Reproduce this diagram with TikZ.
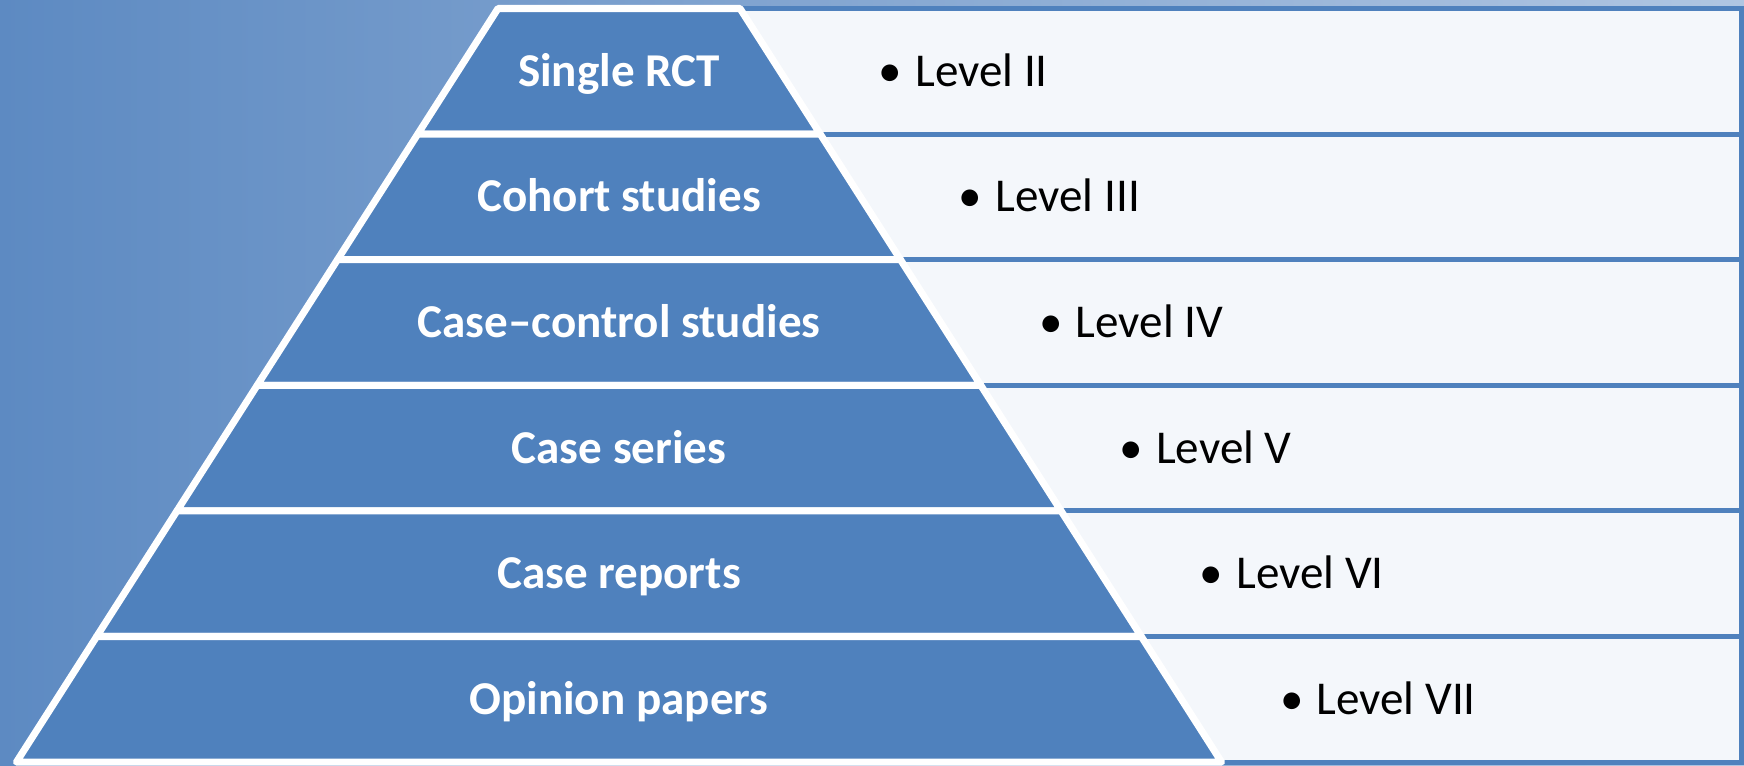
\documentclass[tikz,border=0pt]{standalone}
\usepackage{fontspec}
\setmainfont{Carlito}
\definecolor{pyrblue}{RGB}{79,129,189}
\definecolor{bgleft}{RGB}{93,138,194}
\definecolor{bgright}{RGB}{176,198,226}
\definecolor{boxfill}{RGB}{244,247,251}
\tikzset{
  levelbox/.style={draw=pyrblue, fill=boxfill, line width=1.42pt},
  band/.style={fill=pyrblue, draw=white, line width=2pt, line join=round},
  bandtext/.style={text=white, font=\fontsize{13.4}{16}\selectfont\bfseries, anchor=base, inner sep=0pt, yshift=-1.5mm},
  leveltext/.style={font=\fontsize{13.4}{16}\selectfont, anchor=base west, inner sep=0pt, yshift=-1.5mm}
}
\begin{document}
\begin{tikzpicture}
  \def\cx{6.19} \def\ytop{7.565} \def\rh{1.256}
  \def\hw{1.21} \def\dw{0.8026} \def\xmax{17.415}
  \useasboundingbox (0,0) rectangle (17.44,7.65);
  \shade[left color=bgleft, right color=bgright] (0,0) rectangle (17.44,7.65);
  % level boxes behind the pyramid
  \foreach \k/\lev in {0/II, 1/III, 2/IV, 3/V, 4/VI, 5/VII} {
    \pgfmathsetmacro\ya{\ytop-\k*\rh}
    \pgfmathsetmacro\yb{\ya-\rh}
    \pgfmathsetmacro\wa{\hw+\k*\dw}
    \draw[levelbox] (\cx,\ya) rectangle (\xmax,\yb);
    \node[leveltext] (lev\k) at ({\cx+\wa+1.38},{(\ya+\yb)/2}) {•\hspace{0.28em}Level \lev};
  }
  % pyramid bands
  \foreach \k/\name in {0/Single RCT, 1/Cohort studies, 2/Case--control studies, 3/Case series, 4/Case reports, 5/Opinion papers} {
    \pgfmathsetmacro\ya{\ytop-\k*\rh}
    \pgfmathsetmacro\yb{\ya-\rh}
    \pgfmathsetmacro\wa{\hw+\k*\dw}
    \pgfmathsetmacro\wb{\wa+\dw}
    \draw[band] ({\cx-\wa},\ya) -- ({\cx+\wa},\ya) -- ({\cx+\wb},\yb) -- ({\cx-\wb},\yb) -- cycle;
    \node[bandtext] (band\k) at (\cx,{(\ya+\yb)/2}) {\name};
  }
\end{tikzpicture}
\end{document}
